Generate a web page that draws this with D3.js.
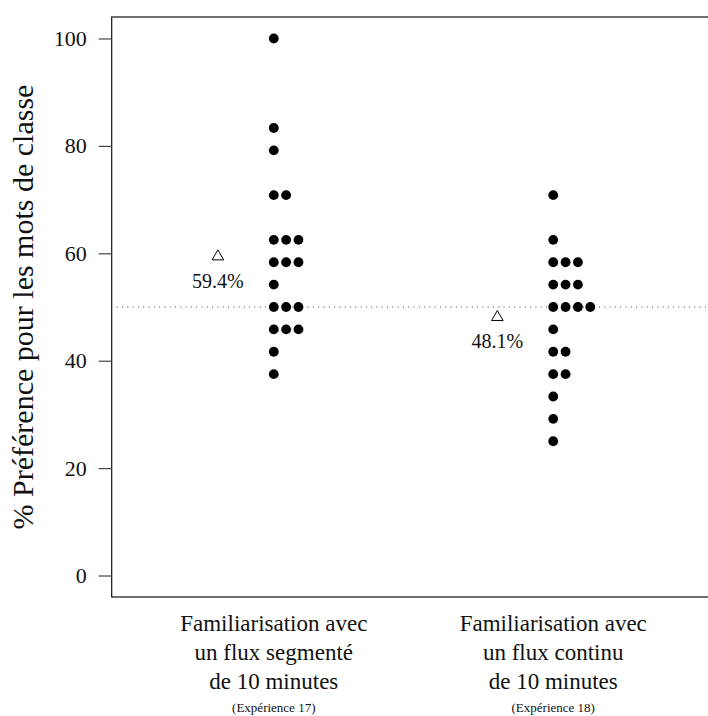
<!DOCTYPE html>
<html>
<head>
<meta charset="utf-8">
<script src="https://cdn.jsdelivr.net/npm/d3@7"></script>
<style>
  body { margin: 0; background: #fff; }
  svg text { font-family: "Liberation Serif", "Times New Roman", Times, serif !important; }
</style>
</head>
<body>
<svg class="chart"></svg>
<script>
// one entry per participant, % choices for the class words
var exp17 = [100, 83.33, 79.17, 70.83, 70.83, 62.5, 62.5, 62.5, 58.33, 58.33, 58.33,
             54.17, 50, 50, 50, 45.83, 45.83, 45.83, 41.67, 37.5];
var exp18 = [70.83, 62.5, 58.33, 58.33, 58.33, 54.17, 54.17, 54.17, 50, 50, 50, 50,
             45.83, 41.67, 41.67, 37.5, 37.5, 33.33, 29.17, 25];
var means = [59.4, 48.1];
var groupLabels = [
  ["Familiarisation avec", "un flux segmenté", "de 10 minutes"],
  ["Familiarisation avec", "un flux continu", "de 10 minutes"]
];
var expLabels = ["(Expérience 17)", "(Expérience 18)"];
var yTicks = [0, 20, 40, 60, 80, 100];
var chance = 50;

var width = 708, height = 716;
var serif = "'Liberation Serif', 'Times New Roman', serif";

var x = d3.scaleLinear().domain([0.42, 2.58]).range([111.7, 715.3]);
var y = d3.scaleLinear().domain([-4, 104]).range([597, 17]);
var stackStep = 0.0442;

var svg = d3.select(".chart")
    .attr("width", width)
    .attr("height", height)
    .style("font-family", serif);

// reference line at 50%
svg.append("line")
    .attr("x1", x(0.42) + 5).attr("x2", x(2.58))
    .attr("y1", y(chance)).attr("y2", y(chance))
    .attr("stroke", "#444")
    .attr("stroke-width", 1)
    .attr("stroke-dasharray", "1,4.3");

// box
svg.append("rect")
    .attr("x", x(0.42)).attr("y", y(104))
    .attr("width", x(2.58) - x(0.42))
    .attr("height", y(-4) - y(104))
    .attr("fill", "none")
    .attr("stroke", "#111")
    .attr("stroke-width", 1.2);

var yAxis = d3.axisLeft(y)
    .tickValues(yTicks)
    .tickSize(13)
    .tickPadding(12);

var ax = svg.append("g")
    .attr("transform", "translate(" + x(0.42) + ",0)")
    .call(yAxis)
    .attr("font-family", null)
    .style("font-family", serif);
ax.select(".domain").remove();
ax.selectAll(".tick line").attr("stroke", "#444").attr("stroke-width", 1.2);
ax.selectAll(".tick text")
    .style("font-family", serif)
    .attr("font-size", 22)
    .attr("fill", "#111");

svg.append("text")
    .attr("transform", "translate(33," + y(50) + ") rotate(-90)")
    .attr("text-anchor", "middle")
    .attr("font-size", 30)
    .attr("fill", "#111")
    .text("% Préférence pour les mots de classe");

// stack the dots sideways when values repeat
function stacked(values, g) {
  var seen = {};
  return values.map(function (v) {
    var k = v.toFixed(2);
    seen[k] = (seen[k] || 0);
    var p = { group: g, value: v, idx: seen[k] };
    seen[k] += 1;
    return p;
  });
}
var points = stacked(exp17, 1).concat(stacked(exp18, 2));

svg.selectAll("circle.pt")
    .data(points)
    .enter().append("circle")
    .attr("class", "pt")
    .attr("cx", function (d) { return x(d.group + d.idx * stackStep); })
    .attr("cy", function (d) { return y(d.value); })
    .attr("r", 4.9)
    .attr("fill", "#000");

// means
svg.selectAll("path.mean")
    .data(means)
    .enter().append("path")
    .attr("class", "mean")
    .attr("d", d3.symbol().type(d3.symbolTriangle).size(58))
    .attr("transform", function (d, i) { return "translate(" + x(i + 1 - 0.2) + "," + y(d) + ")"; })
    .attr("fill", "none")
    .attr("stroke", "#000")
    .attr("stroke-width", 1);

svg.selectAll("text.meanlab")
    .data(means)
    .enter().append("text")
    .attr("class", "meanlab")
    .attr("x", function (d, i) { return x(i + 1 - 0.2); })
    .attr("y", function (d) { return y(d) + 31; })
    .attr("text-anchor", "middle")
    .attr("font-size", 20)
    .attr("fill", "#111")
    .text(function (d) { return d.toFixed(1) + "%"; });

// group labels under the box
var lab = svg.selectAll("g.glab")
    .data(groupLabels)
    .enter().append("g")
    .attr("class", "glab")
    .attr("transform", function (d, i) { return "translate(" + x(i + 1) + ",0)"; });

lab.each(function (lines, i) {
  var g = d3.select(this);
  lines.forEach(function (t, j) {
    g.append("text")
        .attr("y", 631 + j * 29)
        .attr("text-anchor", "middle")
        .attr("font-size", 23)
        .attr("fill", "#111")
        .text(t);
  });
  g.append("text")
      .attr("y", 712)
      .attr("text-anchor", "middle")
      .attr("font-size", 13)
      .attr("fill", "#111")
      .text(expLabels[i]);
});
</script>
</body>
</html>
